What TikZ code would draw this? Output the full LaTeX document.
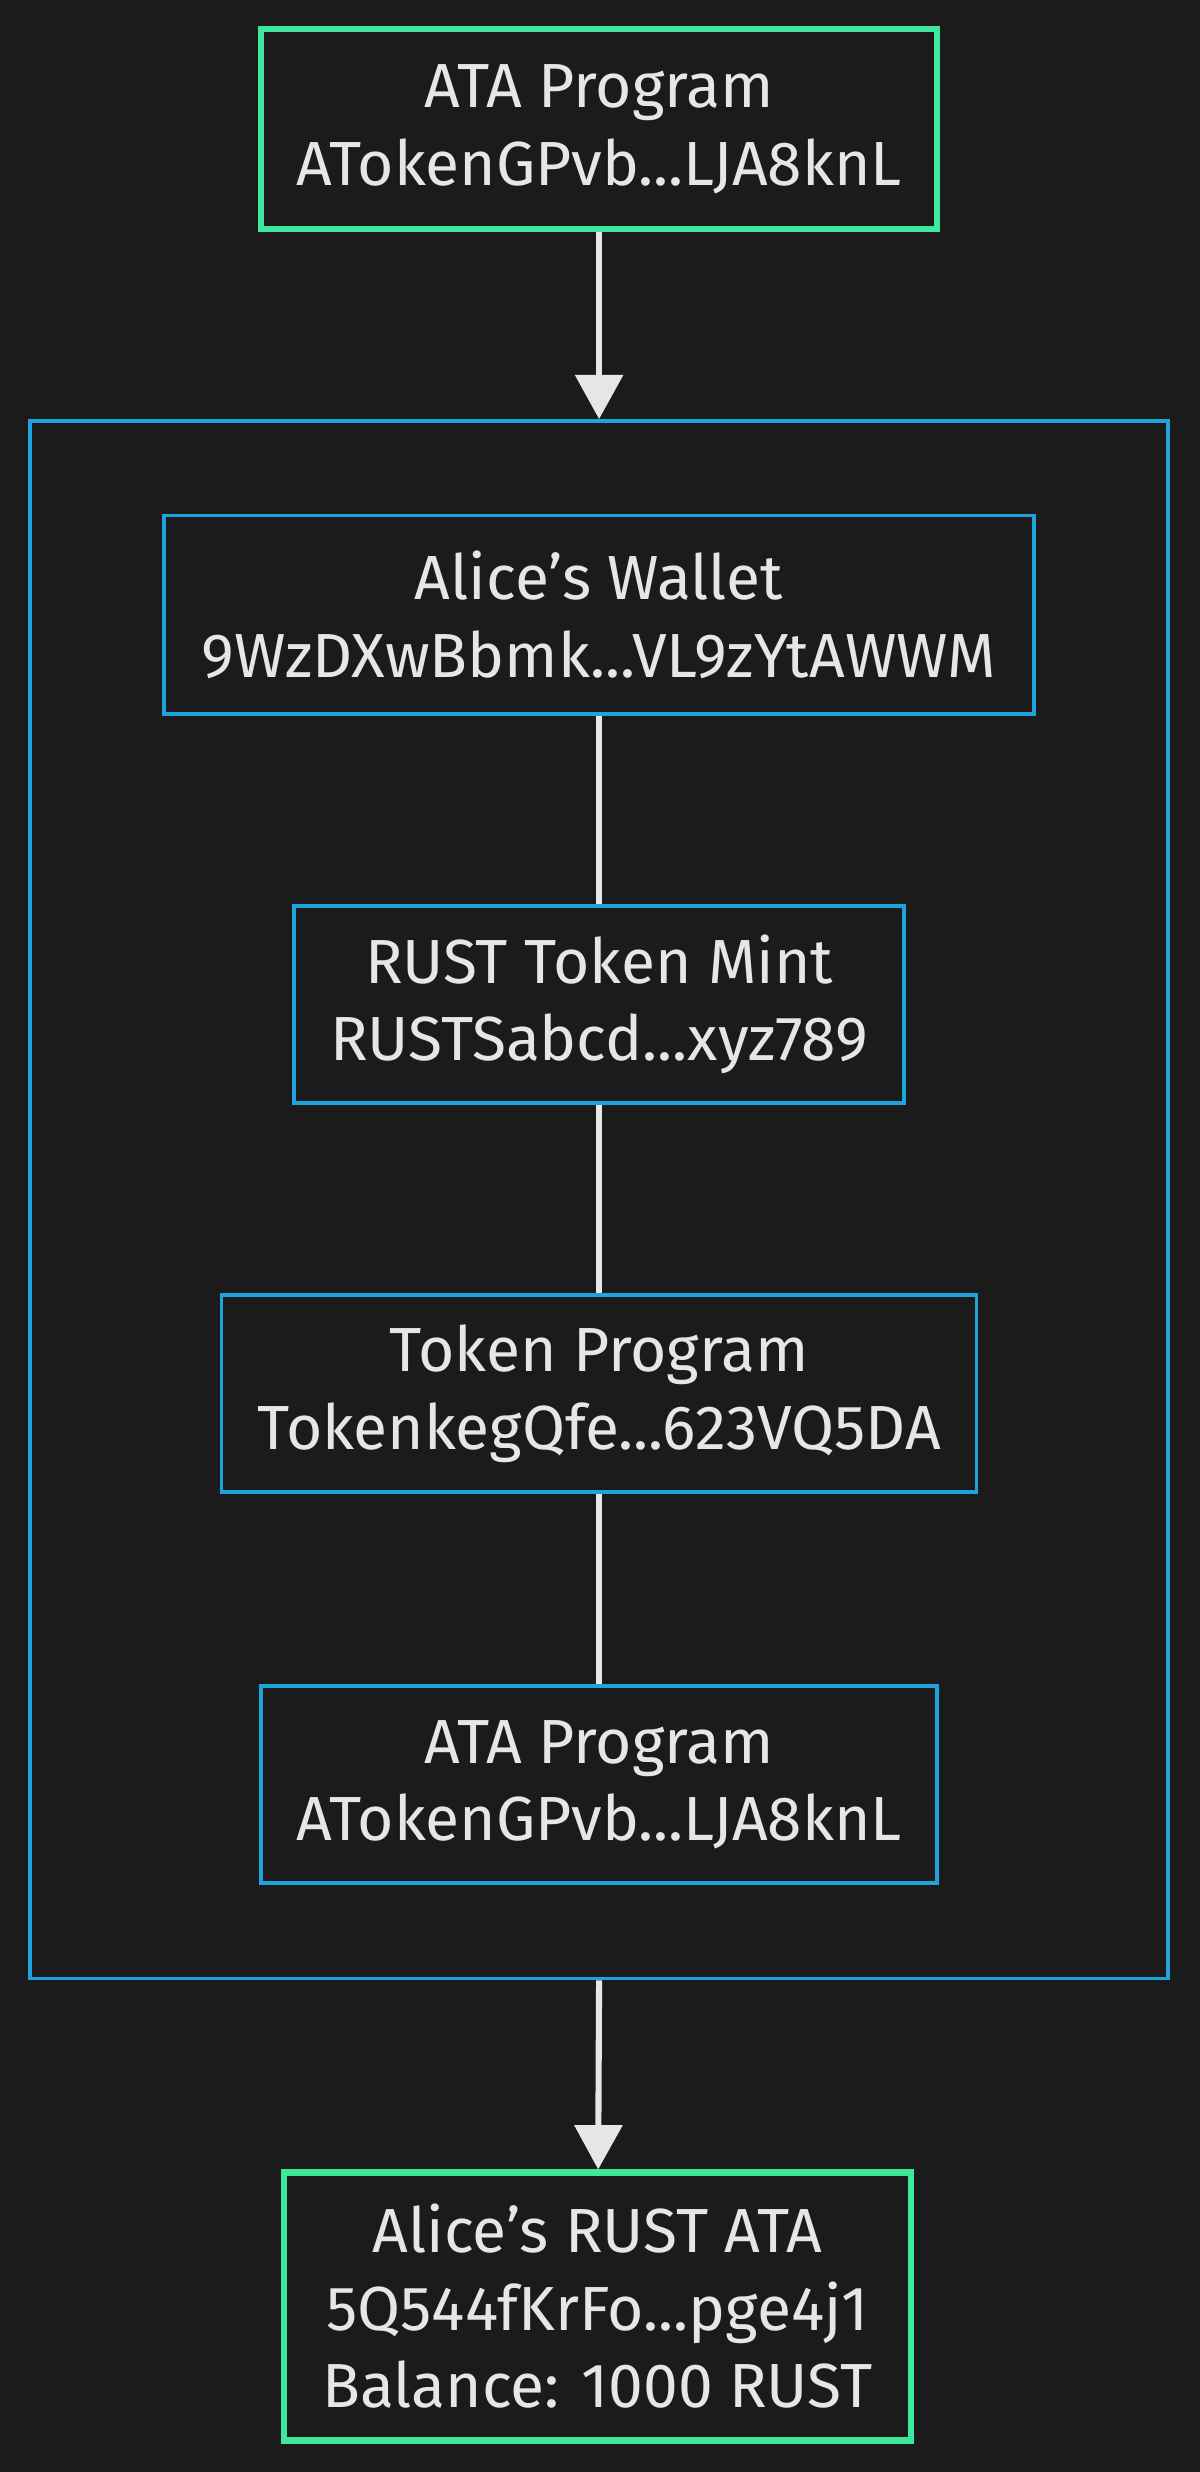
\documentclass[tikz,border=0pt]{standalone}
\usepackage{fontspec}
\setmainfont{Fira Sans}
\usetikzlibrary{arrows.meta}
\definecolor{bg}{HTML}{1B1B1B}
\definecolor{grn}{HTML}{3DE89A}
\definecolor{blu}{HTML}{1EA3DC}
\definecolor{lnk}{HTML}{E6E6E6}
\newcommand{\apos}{{\char"27}}
\tikzset{
  box/.style={draw=blu, line width=1.3pt, text=lnk, align=center, inner sep=0pt,
    font=\fontsize{22.5}{28}\selectfont},
  prog/.style={box, draw=grn, line width=2.2pt},
  link/.style={draw=lnk, line width=2.2pt},
  flow/.style={link, -{Triangle[length=16pt,width=17pt]}}
}
\begin{document}
\begin{tikzpicture}[x=0.02cm,y=-0.02cm]
  \fill[bg] (0,0) rectangle (761,1568);
  \node[prog, minimum width=429*0.02cm, minimum height=127*0.02cm] (ata) at (380,82) {ATA Program\\ATokenGPvb...LJA8knL};
  \node[draw=blu, line width=1.3pt, minimum width=722*0.02cm, minimum height=988*0.02cm] (grp) at (380,761) {};
  \node[box, minimum width=552*0.02cm, minimum height=126*0.02cm] (wallet) at (380,390) {Alice\apos s Wallet\\9WzDXwBbmk...VL9zYtAWWM};
  \node[box, minimum width=387*0.02cm, minimum height=125*0.02cm] (mint) at (380,637) {RUST Token Mint\\RUSTSabcd...xyz789};
  \node[box, minimum width=479*0.02cm, minimum height=125*0.02cm] (tok) at (380,884) {Token Program\\TokenkegQfe...623VQ5DA};
  \node[box, minimum width=429*0.02cm, minimum height=125*0.02cm] (ata2) at (380,1132) {ATA Program\\ATokenGPvb...LJA8knL};
  \node[prog, minimum width=398*0.02cm, minimum height=170*0.02cm] (res) at (379,1463) {Alice\apos s RUST ATA\\5Q544fKrFo...pge4j1\\Balance: 1000 RUST};
  % flow
  \draw[flow] (ata) -- (grp.north);
  \draw[link] (wallet) -- (mint);
  \draw[link] (mint) -- (tok);
  \draw[link] (tok) -- (ata2);
  \draw[flow] (grp.south) -- (res);
\end{tikzpicture}
\end{document}
